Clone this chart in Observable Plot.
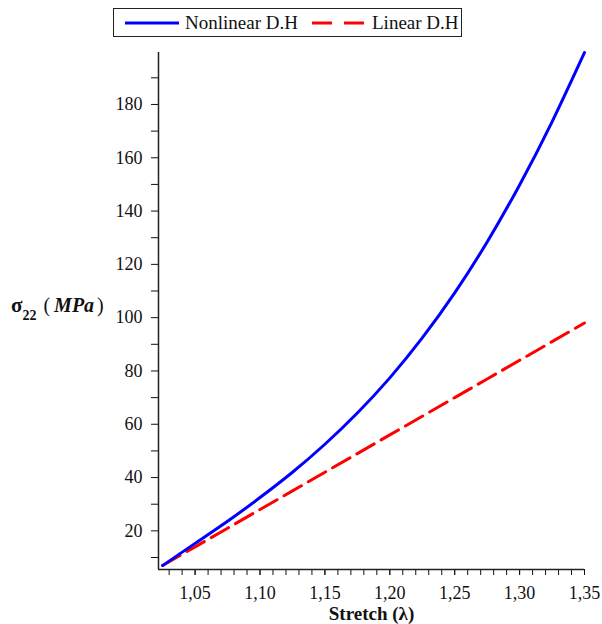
<!DOCTYPE html>
<html>
<head>
<meta charset="utf-8">
<script src="https://cdn.jsdelivr.net/npm/d3@7"></script>
<script src="https://cdn.jsdelivr.net/npm/@observablehq/plot@0.6"></script>
<style>
  body { margin: 0; background: #fff; }
  #wrap { position: relative; width: 602px; height: 624px; font-family: "Liberation Serif", "Times New Roman", serif; }
  #legend { position: absolute; left: 113px; top: 8px; width: 347px; height: 27px; border: 1.5px solid #222; box-sizing: content-box; z-index: 2; }
  #legend .item { position: absolute; top: 0; height: 27px; line-height: 27px; font-size: 19px; color: #111; white-space: nowrap; }
  #legend svg { position: absolute; top: 0; }
  #ylabel { position: absolute; left: 11px; top: 294px; font-size: 20px; line-height: 23px; color: #111; white-space: nowrap; z-index: 2; }
  #ylabel .sig { font-weight: bold; font-size: 21px; }
  #ylabel sub { font-size: 14px; font-weight: bold; vertical-align: -8px; line-height: 0; margin-right: 7px; }
  #ylabel .u { font-weight: bold; font-style: italic; margin: 0 3px 0 4px; }
  #plot { position: absolute; left: 0; top: 40px; z-index: 1; }
</style>
</head>
<body>
<div id="wrap">
  <div id="legend"></div>
  <div id="ylabel"><span class="sig">σ</span><sub>22</sub>(<span class="u">MPa</span>)</div>
  <div id="plot"></div>
</div>
<script>
// Data
const stretch = [1.025, 1.05, 1.075, 1.10, 1.125, 1.15, 1.175, 1.20, 1.225, 1.25, 1.275, 1.30, 1.325, 1.35];
const nonlinearDH = [7, 15.3, 23.6, 32.5, 42.0, 52.5, 64.2, 77.4, 92.4, 109.3, 128.4, 149.8, 173.5, 199.5];
const linearDH = [7, 14, 21, 28, 35, 42, 49, 56, 63, 70, 77, 84, 91, 98];
const seriesNames = ["Nonlinear D.H", "Linear D.H"];
const seriesColors = ["#0000ff", "#ff0000"];
const xMajorTicks = [1.05, 1.10, 1.15, 1.20, 1.25, 1.30, 1.35];
const xMinorTicks = d3.range(103, 136).map(d => d / 100);
const yMajorTicks = [20, 40, 60, 80, 100, 120, 140, 160, 180];
const yMinorTicks = [10, 30, 50, 70, 90, 110, 130, 150, 170, 190];
const xDomain = [1.0218, 1.35];
const yDomain = [5.5, 199.5];

const nonlinearData = stretch.map((x, i) => ({x, y: nonlinearDH[i]}));
const linearData = stretch.map((x, i) => ({x, y: linearDH[i]}));

// Legend
const legend = document.getElementById("legend");
const legendLayout = [
  {lineX: 11, textX: 71, dash: null},
  {lineX: 198, textX: 258, dash: "20,12"}
];
seriesNames.forEach((name, i) => {
  const L = legendLayout[i];
  const svg = d3.create("svg").attr("width", 54).attr("height", 27).style("left", L.lineX + "px");
  svg.append("line").attr("x1", 0).attr("x2", 54).attr("y1", 14).attr("y2", 14)
    .attr("stroke", seriesColors[i]).attr("stroke-width", 3)
    .attr("stroke-dasharray", L.dash);
  legend.appendChild(svg.node());
  const t = document.createElement("div");
  t.className = "item";
  t.style.left = L.textX + "px";
  t.textContent = name;
  legend.appendChild(t);
});

const fmt = d => d.toFixed(2).replace(".", ",");

const chart = Plot.plot({
  width: 602,
  height: 584,
  marginLeft: 158,
  marginRight: 18,
  marginTop: 12,
  marginBottom: 55,
  style: {fontFamily: "Liberation Serif, Times New Roman, serif", fontSize: "18px", color: "#111", background: "transparent"},
  x: {domain: xDomain},
  y: {domain: yDomain},
  marks: [
    Plot.axisX({ticks: xMinorTicks, tickSize: 6, tickFormat: () => "", label: null}),
    Plot.axisX({ticks: xMajorTicks, tickSize: 6, tickPadding: 11, tickFormat: fmt, fontSize: 18,
      label: "Stretch (λ)", labelAnchor: "center", labelArrow: "none", labelOffset: 50}),
    Plot.axisY({ticks: yMinorTicks, tickSize: 7, tickFormat: () => "", label: null}),
    Plot.axisY({ticks: yMajorTicks, tickSize: 7, tickPadding: 9, fontSize: 18, label: null}),
    Plot.ruleX([xDomain[0]], {stroke: "#222", strokeWidth: 1.5}),
    Plot.ruleY([yDomain[0]], {stroke: "#222", strokeWidth: 1.5}),
    Plot.line(linearData, {x: "x", y: "y", stroke: seriesColors[1], strokeWidth: 3, strokeDasharray: "20,8", curve: "linear"}),
    Plot.line(nonlinearData, {x: "x", y: "y", stroke: seriesColors[0], strokeWidth: 3, curve: "natural"})
  ]
});
document.getElementById("plot").appendChild(chart);
// bold x-axis label
d3.select(chart).selectAll("text").filter(function() { return this.textContent === "Stretch (λ)"; })
  .style("font-weight", "bold").style("font-size", "19px");
</script>
</body>
</html>
